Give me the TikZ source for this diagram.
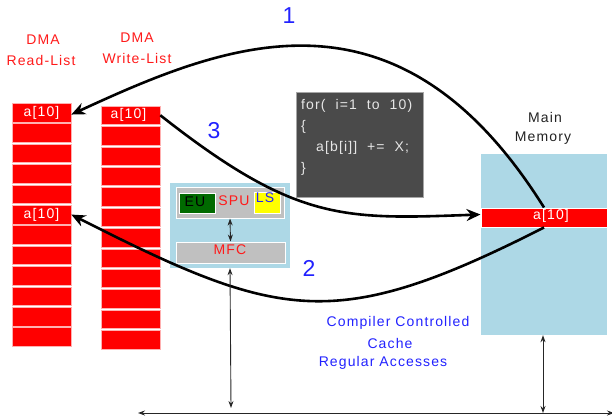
\documentclass[tikz,border=0pt]{standalone}
\usepackage{fontspec}
\setmainfont[LetterSpace=8]{Liberation Sans}
\usetikzlibrary{arrows.meta}
\definecolor{cellred}{HTML}{FF0000}
\definecolor{celledge}{HTML}{FFB0B0}
\definecolor{txtred}{HTML}{FF1A1A}
\definecolor{txtblue}{HTML}{2222FF}
\definecolor{memblue}{HTML}{ADD8E6}
\definecolor{codegray}{HTML}{4A4A4A}
\definecolor{codetxt}{HTML}{E6E6E6}
\definecolor{unitgray}{HTML}{C0C0C0}
\definecolor{eugreen}{HTML}{006A00}
\definecolor{lsyellow}{HTML}{FFFF00}
\definecolor{darktxt}{HTML}{222222}
\tikzset{
  lab/.style={font=\fontsize{14}{16}\selectfont, inner sep=0pt},
  bignum/.style={font=\fontsize{23}{25}\selectfont, text=txtblue, inner sep=0pt},
  cell/.style={minimum width=59pt, minimum height=18.5pt, inner sep=0pt,
    fill=cellred, draw=celledge, line width=0.6pt, text=white, lab},
  unit/.style={inner sep=0pt, draw=white, line width=1pt},
  flow/.style={line width=2.6pt, -{Stealth[length=14pt,width=12pt]}},
  link/.style={line width=0.9pt, draw=black!85,
    {Stealth[length=7pt,width=5pt]}-{Stealth[length=7pt,width=5pt]}},
}
\begin{document}
\begin{tikzpicture}[x=1pt,y=-1pt]
\useasboundingbox (0,0) rectangle (612,417);

% list headings
\node[lab, text=txtred] (hr1) at (43,40) {DMA};
\node[lab, text=txtred] (hr2) at (41,60) {Read-List};
\node[lab, text=txtred] (hw1) at (137,38) {DMA};
\node[lab, text=txtred] (hw2) at (137,58) {Write-List};

% DMA read list and write list
\foreach \i in {1,...,12} {
  \node[cell] (r\i) at (41.5,{103.3+(\i-1)*20.4+9.25}) {};
  \node[cell] (w\i) at (130.5,{106+(\i-1)*20.4+9.25}) {};
}
\node[lab, text=white] at (r1) {a[10]};
\node[lab, text=white] at (r6) {a[10]};
\node[lab, text=white] at ([xshift=-2pt]w1.center) {a[10]};

% loop body
\node[minimum width=127pt, minimum height=105pt, inner sep=0pt, fill=codegray,
      draw=gray!70, line width=0.5pt] (code) at (359.5,144.5) {};
\node[lab, text=codetxt, anchor=west] (c1) at (301,106) {for(\ \ i=1\ \ to\ \ 10)};
\node[lab, text=codetxt, anchor=west] (c2) at (301,127) {\{};
\node[lab, text=codetxt, anchor=west] (c3) at (316,148) {a[b[i]]\ \ +=\ \ X;};
\node[lab, text=codetxt, anchor=west] (c4) at (301,169) {\}};

% SPE: SPU and MFC
\node[minimum width=120pt, minimum height=85pt, inner sep=0pt, fill=memblue] (spe) at (230,225.5) {};
\node[unit, fill=unitgray, minimum width=108pt, minimum height=31pt] (spu) at (230,202.5) {};
\node[unit, fill=eugreen, minimum width=36pt, minimum height=20pt] (eu) at (197,203) {};
\node[lab] at (195,202) {EU};
\node[lab, text=txtred] at (234,201) {SPU};
\node[unit, fill=lsyellow, minimum width=26pt, minimum height=21pt] (ls) at (267,202.5) {};
\node[lab, text=txtblue] at (265,198) {LS};
\node[unit, fill=unitgray, minimum width=109pt, minimum height=21pt] (mfc) at (230.5,252.5) {};
\node[lab, text=txtred] at (230,250) {MFC};
\draw[link] (spu.south) -- (mfc.north);

% main memory
\node[lab, text=darktxt] (mm1) at (545,117) {Main};
\node[lab, text=darktxt] (mm2) at (543,138) {Memory};
\node[minimum width=126pt, minimum height=181pt, inner sep=0pt, fill=memblue] (mm) at (544,244.5) {};
\node[minimum width=126pt, minimum height=19pt, inner sep=0pt, fill=cellred,
      draw=white, line width=1pt] (mma) at (544,217.5) {};
\node[lab, text=white] at (551,216) {a[10]};

% cache annotation
\node[lab, text=txtblue] (cc1) at (398,323) {Compiler Controlled};
\node[lab, text=txtblue] (cc2) at (390,343) {Cache};
\node[lab, text=txtblue] (cc3) at (383,363) {Regular Accesses};

% DMA transfers
\draw[flow] (mma.north) .. controls +(-147,-235) and +(154,-71) .. ([yshift=-2pt]r1.east);
\draw[flow] (mma.south) .. controls +(-209,106) and +(209,106) .. (r6.east);
\draw[flow] (w1.east) .. controls +(136,107) and +(-137,5) .. ([yshift=3pt]mma.west);
\node[bignum] (n1) at (289,16) {1};
\node[bignum] (n2) at (309,268) {2};
\node[bignum] (n3) at (214,131) {3};

% address range
\coordinate (bl) at (138,413);
\coordinate (br) at (614,413);
\coordinate (mfcend) at (231,408);
\coordinate (mmend) at (543,413);
\draw[link] (bl) -- (br);
\draw[link] (spe.south) -- (mfcend);
\draw[link] (mm.south -| mmend) -- (mmend);
\end{tikzpicture}
\end{document}
